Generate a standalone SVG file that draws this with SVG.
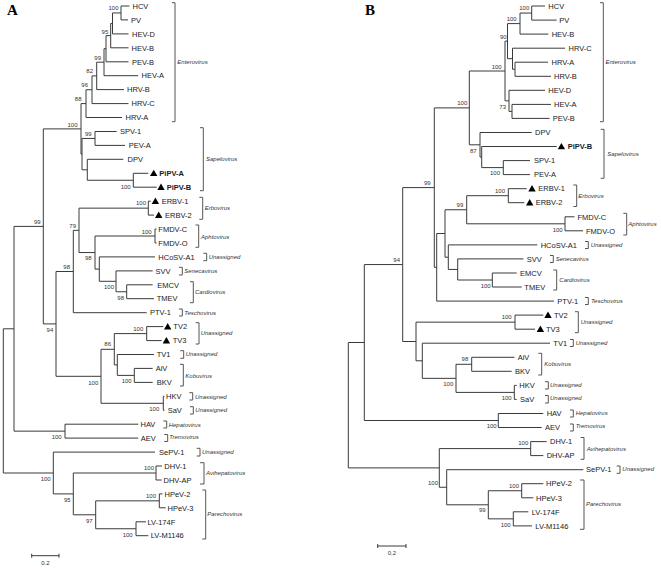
<svg xmlns="http://www.w3.org/2000/svg" xmlns:xlink="http://www.w3.org/1999/xlink" width="661" height="568" viewBox="0 0 661 568">
<style>
.e{stroke:#3a3a3a;stroke-width:1;fill:none}
.br{stroke:#555;stroke-width:1;fill:none}
text{font-family:"Liberation Sans",Arial,sans-serif;fill:#1a1a1a}
.l{font-size:7.5px}
.lb{font-size:7.5px;font-weight:bold}
.bs{font-size:6px;text-anchor:end;fill:#333}
.g{font-size:6px;font-style:italic;fill:#333}
.p{font-family:"Liberation Serif","Times New Roman",serif;font-size:15px;font-weight:bold;fill:#000}
.sc{font-size:6px;text-anchor:middle;fill:#333}
.tri{fill:#000}
</style>
<defs>
<path id="tri" d="M0,2.8 L7.4,2.8 L3.7,-3.6 Z"/>
</defs>
<rect width="661" height="568" fill="#fff"/>
<text class="p" x="7" y="15">A</text>
<text class="p" x="365" y="15">B</text>

<g id="connectors">
<path class="e" d="M121 6V19.9M112.5 12.95V33.9M110.7 23.4V47.8M106 35.6V61.8M104 48.7V75.7M96.7 62.2V89.6M92 75.9V103.6M86 89.75V117.5M95 131.5V145.4M133.3 173.3V187.2M87.3 159.3V180.25M82 138.45V169.8M81 103.6V154.1M148.3 201.2V215.1M155 229V243M126.7 284.8V298.7M116 270.9V291.75M99.3 256.9V281.3M95 236V269.1M79 208.15V252.55M73.3 230.35V312.7M146.7 326.6V340.6M134.3 368.4V382.4M117.3 354.5V375.4M114.3 333.6V364.95M163.3 396.3V410.3M101 349.3V403.3M56 271.5V376.3M43.3 128.9V323.9M65 424.2V438.1M14 226.4V431.15M156 466V480M159.3 493.9V507.8M136 521.8V535.7M95.7 500.85V528.75M73.3 473V514.8M53.3 452.1V493.9M3.3 328.8V473"/>
<path class="e" d="M121 6H129.5M121 19.9H128M112.5 12.95H121M112.5 33.9H128.5M110.7 23.4H112.5M110.7 47.8H128.5M106 35.6H110.7M106 61.8H128.5M104 48.7H106M104 75.7H138.3M96.7 62.2H104M96.7 89.6H124M92 75.9H96.7M92 103.6H128.5M86 89.75H92M86 117.5H122M81 103.6H86M95 131.5H116.7M95 145.4H125M82 138.45H95M87.3 159.3H123.3M133.3 173.3H148.3M133.3 187.2H156.7M87.3 180.25H133.3M82 169.8H87.3M81 154.1H82M43.3 128.9H81M148.3 201.2H150.7M148.3 215.1H154M79 208.15H148.3M155 229H156.5M155 243H156.5M95 236H155M99.3 256.9H155M116 270.9H152.7M126.7 284.8H152.7M126.7 298.7H154M116 291.75H126.7M99.3 281.3H116M95 269.1H99.3M79 252.55H95M73.3 230.35H79M73.3 312.7H146.7M56 271.5H73.3M146.7 326.6H163.3M146.7 340.6H161.7M114.3 333.6H146.7M117.3 354.5H154M134.3 368.4H152.7M134.3 382.4H152.7M117.3 375.4H134.3M114.3 364.95H117.3M101 349.3H114.3M163.3 396.3H164.5M163.3 410.3H164.5M101 403.3H163.3M56 376.3H101M43.3 323.9H56M14 226.4H43.3M65 424.2H138.3M65 438.1H138.3M14 431.15H65M3.3 328.8H14M53.3 452.1H155M156 466H162M156 480H161.7M73.3 473H156M159.3 493.9H162.5M159.3 507.8H165.7M136 521.8H146M136 535.7H148.3M95.7 500.85H159.3M95.7 528.75H136M73.3 514.8H95.7M53.3 493.9H73.3M3.3 473H53.3"/>
<path class="e" d="M531.7 6V20.1M520 13.05V34.1M515 62.2V76.3M512.5 48.2V69.25M507.5 23.6V58.7M512 104.4V118.4M509 90.3V111.4M505 41.15V100.85M503.3 160.6V174.6M481.7 146.5V167.6M480 132.5V157.05M469.3 71V144.8M508.3 188.7V202.7M565 216.8V230.8M466.7 195.7V223.8M492.3 273V287M457.7 258.9V280M448.3 244.9V269.45M445 209.75V257.2M436.7 233.5V301.1M434.3 107.9V267.3M515 315.1V329.2M471.7 357.3V371.3M514.3 385.4V399.4M456 364.3V392.4M422.3 343.2V378.35M416 322.15V360.8M402.7 187.6V341.5M498.3 413.5V427.5M364.3 264.55V420.5M530.7 441.6V455.6M521.7 483.7V497.8M513.3 511.8V525.9M488.3 490.75V518.85M446.7 469.7V504.8M439.3 448.6V487.25M348.3 342.5V467.9"/>
<path class="e" d="M531.7 6H545M531.7 20.1H556.7M520 13.05H531.7M520 34.1H548.3M507.5 23.6H520M512.5 48.2H565M515 62.2H548M515 76.3H551M512.5 69.25H515M507.5 58.7H512.5M505 41.15H507.5M509 90.3H545M512 104.4H551M512 118.4H549.5M509 111.4H512M505 100.85H509M469.3 71H505M480 132.5H531.7M481.7 146.5H556.7M503.3 160.6H530M503.3 174.6H530M481.7 167.6H503.3M480 157.05H481.7M469.3 144.8H480M434.3 107.9H469.3M508.3 188.7H526.7M508.3 202.7H524.3M466.7 195.7H508.3M565 216.8H574.5M565 230.8H583M466.7 223.8H565M445 209.75H466.7M448.3 244.9H537.3M457.7 258.9H523.5M492.3 273H516.7M492.3 287H521.7M457.7 280H492.3M448.3 269.45H457.7M445 257.2H448.3M436.7 233.5H445M436.7 301.1H554M434.3 267.3H436.7M402.7 187.6H434.3M515 315.1H543.3M515 329.2H535M416 322.15H515M422.3 343.2H550M471.7 357.3H514.5M471.7 371.3H511.7M456 364.3H471.7M514.3 385.4H516.7M514.3 399.4H516.7M456 392.4H514.3M422.3 378.35H456M416 360.8H422.3M402.7 341.5H416M364.3 264.55H402.7M498.3 413.5H543.3M498.3 427.5H541.7M364.3 420.5H498.3M348.3 342.5H364.3M530.7 441.6H546.7M530.7 455.6H543.3M439.3 448.6H530.7M446.7 469.7H583.3M521.7 483.7H543.3M521.7 497.8H533.3M513.3 511.8H528.3M513.3 525.9H532M488.3 490.75H521.7M488.3 518.85H513.3M446.7 504.8H488.3M439.3 487.25H446.7M348.3 467.9H439.3"/>
</g>

<g id="bootstrap-a">
<text class="bs" x="118.5" y="10.1">100</text>
<text class="bs" x="108.3" y="33.6">95</text>
<text class="bs" x="101" y="59.6">99</text>
<text class="bs" x="93" y="73.1">82</text>
<text class="bs" x="88" y="87.1">96</text>
<text class="bs" x="81.5" y="101.1">88</text>
<text class="bs" x="77.5" y="126.6">100</text>
<text class="bs" x="91.7" y="136.4">99</text>
<text class="bs" x="130.7" y="188.8">100</text>
<text class="bs" x="146" y="205.1">100</text>
<text class="bs" x="40.7" y="223.8">99</text>
<text class="bs" x="76" y="227.6">79</text>
<text class="bs" x="151.7" y="233.6">100</text>
<text class="bs" x="91.7" y="260.4">98</text>
<text class="bs" x="70" y="268.8">98</text>
<text class="bs" x="114" y="289.4">100</text>
<text class="bs" x="124" y="300.4">98</text>
<text class="bs" x="143.3" y="331.1">100</text>
<text class="bs" x="53.3" y="332.1">94</text>
<text class="bs" x="111" y="346.4">86</text>
<text class="bs" x="131.7" y="383.1">100</text>
<text class="bs" x="98.3" y="384.8">100</text>
<text class="bs" x="159.3" y="411.1">100</text>
<text class="bs" x="61.7" y="438.8">100</text>
<text class="bs" x="154" y="470.4">100</text>
<text class="bs" x="50.7" y="481.4">100</text>
<text class="bs" x="156" y="498.1">100</text>
<text class="bs" x="70.7" y="502.1">95</text>
<text class="bs" x="92.7" y="522.8">97</text>
<text class="bs" x="132.7" y="537.1">100</text>
</g>
<g id="bootstrap-b">
<text class="bs" x="529.3" y="10.4">100</text>
<text class="bs" x="516.7" y="21.4">100</text>
<text class="bs" x="506.7" y="38.8">90</text>
<text class="bs" x="501.7" y="68.8">100</text>
<text class="bs" x="506" y="109.3">73</text>
<text class="bs" x="467.3" y="105.4">100</text>
<text class="bs" x="476.7" y="153.1">87</text>
<text class="bs" x="500" y="175.4">100</text>
<text class="bs" x="430.7" y="184.8">99</text>
<text class="bs" x="505" y="193.1">100</text>
<text class="bs" x="463.3" y="207.1">99</text>
<text class="bs" x="562.7" y="232.1">100</text>
<text class="bs" x="400" y="262.1">94</text>
<text class="bs" x="490.7" y="288.1">100</text>
<text class="bs" x="511.7" y="319.4">100</text>
<text class="bs" x="468.3" y="361.4">98</text>
<text class="bs" x="453.3" y="386.4">100</text>
<text class="bs" x="511.7" y="400.4">100</text>
<text class="bs" x="496.7" y="427.8">100</text>
<text class="bs" x="528.3" y="445.4">100</text>
<text class="bs" x="438" y="485.4">100</text>
<text class="bs" x="519" y="487.8">100</text>
<text class="bs" x="485.7" y="512.1">99</text>
<text class="bs" x="510.7" y="527.1">100</text>
</g>

<g id="a-HCV"><text class="l" x="132.5" y="8.7">HCV</text></g>
<g id="a-PV"><text class="l" x="131" y="22.6">PV</text></g>
<g id="a-HEV-D"><text class="l" x="132" y="36.6">HEV-D</text></g>
<g id="a-HEV-B"><text class="l" x="131.5" y="50.5">HEV-B</text></g>
<g id="a-PEV-B"><text class="l" x="132" y="64.5">PEV-B</text></g>
<g id="a-HEV-A"><text class="l" x="141.5" y="78.4">HEV-A</text></g>
<g id="a-HRV-B"><text class="l" x="127" y="92.3">HRV-B</text></g>
<g id="a-HRV-C"><text class="l" x="131.5" y="106.3">HRV-C</text></g>
<g id="a-HRV-A"><text class="l" x="125.5" y="120.2">HRV-A</text></g>
<g id="a-SPV-1"><text class="l" x="120" y="134.2">SPV-1</text></g>
<g id="a-PEV-A"><text class="l" x="128.7" y="148.1">PEV-A</text></g>
<g id="a-DPV"><text class="l" x="127.5" y="162">DPV</text></g>
<g id="a-PiPV-A"><use xlink:href="#tri" class="tri" x="150" y="173.3"/><text class="lb" x="159.3" y="176">PiPV-A</text></g>
<g id="a-PiPV-B"><use xlink:href="#tri" class="tri" x="157.3" y="187.2"/><text class="lb" x="166.7" y="189.9">PiPV-B</text></g>
<g id="a-ERBV-1"><use xlink:href="#tri" class="tri" x="151.7" y="201.2"/><text class="l" x="161.7" y="203.9">ERBV-1</text></g>
<g id="a-ERBV-2"><use xlink:href="#tri" class="tri" x="155" y="215.1"/><text class="l" x="165" y="217.8">ERBV-2</text></g>
<g id="a-FMDV-C"><text class="l" x="158.3" y="231.7">FMDV-C</text></g>
<g id="a-FMDV-O"><text class="l" x="158.3" y="245.7">FMDV-O</text></g>
<g id="a-HCoSV-A1"><text class="l" x="158.3" y="259.6">HCoSV-A1</text></g>
<g id="a-SVV"><text class="l" x="155.5" y="273.6">SVV</text></g>
<g id="a-EMCV"><text class="l" x="157.3" y="287.5">EMCV</text></g>
<g id="a-TMEV"><text class="l" x="156.7" y="301.4">TMEV</text></g>
<g id="a-PTV-1"><text class="l" x="150" y="315.4">PTV-1</text></g>
<g id="a-TV2"><use xlink:href="#tri" class="tri" x="164" y="326.6"/><text class="l" x="173.3" y="329.3">TV2</text></g>
<g id="a-TV3"><use xlink:href="#tri" class="tri" x="162.7" y="340.6"/><text class="l" x="172.7" y="343.3">TV3</text></g>
<g id="a-TV1"><text class="l" x="156.7" y="357.2">TV1</text></g>
<g id="a-AiV"><text class="l" x="155.7" y="371.1">AiV</text></g>
<g id="a-BKV"><text class="l" x="156.7" y="385.1">BKV</text></g>
<g id="a-HKV"><text class="l" x="166" y="399">HKV</text></g>
<g id="a-SaV"><text class="l" x="167.7" y="413">SaV</text></g>
<g id="a-HAV"><text class="l" x="140.5" y="426.9">HAV</text></g>
<g id="a-AEV"><text class="l" x="140.7" y="440.8">AEV</text></g>
<g id="a-SePV-1"><text class="l" x="159" y="454.8">SePV-1</text></g>
<g id="a-DHV-1"><text class="l" x="164.3" y="468.7">DHV-1</text></g>
<g id="a-DHV-AP"><text class="l" x="163.5" y="482.7">DHV-AP</text></g>
<g id="a-HPeV-2"><text class="l" x="164.5" y="496.6">HPeV-2</text></g>
<g id="a-HPeV-3"><text class="l" x="167.5" y="510.5">HPeV-3</text></g>
<g id="a-LV-174F"><text class="l" x="147.5" y="524.5">LV-174F</text></g>
<g id="a-LV-M1146"><text class="l" x="150.7" y="538.4">LV-M1146</text></g>

<g id="b-HCV"><text class="l" x="548.3" y="8.7">HCV</text></g>
<g id="b-PV"><text class="l" x="559.3" y="22.8">PV</text></g>
<g id="b-HEV-B"><text class="l" x="551.7" y="36.8">HEV-B</text></g>
<g id="b-HRV-C"><text class="l" x="568.5" y="50.9">HRV-C</text></g>
<g id="b-HRV-A"><text class="l" x="551.5" y="64.9">HRV-A</text></g>
<g id="b-HRV-B"><text class="l" x="554" y="79">HRV-B</text></g>
<g id="b-HEV-D"><text class="l" x="548.3" y="93">HEV-D</text></g>
<g id="b-HEV-A"><text class="l" x="554" y="107.1">HEV-A</text></g>
<g id="b-PEV-B"><text class="l" x="552.7" y="121.1">PEV-B</text></g>
<g id="b-DPV"><text class="l" x="535" y="135.2">DPV</text></g>
<g id="b-PiPV-B"><use xlink:href="#tri" class="tri" x="557.7" y="146.5"/><text class="lb" x="567.7" y="149.2">PiPV-B</text></g>
<g id="b-SPV-1"><text class="l" x="534" y="163.3">SPV-1</text></g>
<g id="b-PEV-A"><text class="l" x="534" y="177.3">PEV-A</text></g>
<g id="b-ERBV-1"><use xlink:href="#tri" class="tri" x="528.3" y="188.7"/><text class="l" x="538.3" y="191.4">ERBV-1</text></g>
<g id="b-ERBV-2"><use xlink:href="#tri" class="tri" x="526" y="202.7"/><text class="l" x="535.7" y="205.4">ERBV-2</text></g>
<g id="b-FMDV-C"><text class="l" x="577.5" y="219.5">FMDV-C</text></g>
<g id="b-FMDV-O"><text class="l" x="586" y="233.5">FMDV-O</text></g>
<g id="b-HCoSV-A1"><text class="l" x="540.7" y="247.6">HCoSV-A1</text></g>
<g id="b-SVV"><text class="l" x="526.7" y="261.6">SVV</text></g>
<g id="b-EMCV"><text class="l" x="520" y="275.7">EMCV</text></g>
<g id="b-TMEV"><text class="l" x="524.3" y="289.7">TMEV</text></g>
<g id="b-PTV-1"><text class="l" x="557.3" y="303.8">PTV-1</text></g>
<g id="b-TV2"><use xlink:href="#tri" class="tri" x="544.3" y="315.1"/><text class="l" x="554" y="317.8">TV2</text></g>
<g id="b-TV3"><use xlink:href="#tri" class="tri" x="536.7" y="329.2"/><text class="l" x="546" y="331.9">TV3</text></g>
<g id="b-TV1"><text class="l" x="553.3" y="345.9">TV1</text></g>
<g id="b-AiV"><text class="l" x="517.7" y="360">AiV</text></g>
<g id="b-BKV"><text class="l" x="515" y="374">BKV</text></g>
<g id="b-HKV"><text class="l" x="519.3" y="388.1">HKV</text></g>
<g id="b-SaV"><text class="l" x="520" y="402.1">SaV</text></g>
<g id="b-HAV"><text class="l" x="546.7" y="416.2">HAV</text></g>
<g id="b-AEV"><text class="l" x="545" y="430.2">AEV</text></g>
<g id="b-DHV-1"><text class="l" x="550" y="444.3">DHV-1</text></g>
<g id="b-DHV-AP"><text class="l" x="546.7" y="458.3">DHV-AP</text></g>
<g id="b-SePV-1"><text class="l" x="586" y="472.4">SePV-1</text></g>
<g id="b-HPeV-2"><text class="l" x="546" y="486.4">HPeV-2</text></g>
<g id="b-HPeV-3"><text class="l" x="536" y="500.5">HPeV-3</text></g>
<g id="b-LV-174F"><text class="l" x="531.7" y="514.5">LV-174F</text></g>
<g id="b-LV-M1146"><text class="l" x="535.3" y="528.6">LV-M1146</text></g>

<g id="genera-a">
<path class="br" d="M172 2.7H175V121.7H172M200 127.7H203.3V190.7H200M199.3 197.3H202.7V219.3H199.3M195.5 225H198.7V247.3H195.5M203.3 253.3H206.7V260.7H203.3M179 267.3H182.3V275H179M190 281.7H193.3V302.7H190M179 309H182.3V316H179M195.7 322.7H199V344H195.7M180.3 350.7H183.7V358.3H180.3M180 364.3H183.3V386H180M189.3 392.7H192.7V400H189.3M190 406.7H193.3V414H190M163.3 421H166.7V428H163.3M164.3 434.5H167.7V441.5H164.3M196.7 448.3H200V456H196.7M200 462.7H204V484H200M202.3 490H205.7V539H202.3"/>
<text class="g" x="177.3" y="64.1">Enterovirus</text>
<text class="g" x="206" y="161.4">Sapelovirus</text>
<text class="g" x="204.7" y="210.4">Erbovirus</text>
<text class="g" x="201" y="238.8">Aphtovirus</text>
<text class="g" x="208.7" y="259.1">Unassigned</text>
<text class="g" x="184.3" y="273.1">Senecavirus</text>
<text class="g" x="195" y="293.8">Cardiovirus</text>
<text class="g" x="184.3" y="314.8">Teschovirus</text>
<text class="g" x="200.7" y="335.4">Unassigned</text>
<text class="g" x="185.7" y="356.1">Unassigned</text>
<text class="g" x="185.3" y="377.8">Kobuvirus</text>
<text class="g" x="195" y="398.8">Unassigned</text>
<text class="g" x="195.3" y="412.1">Unassigned</text>
<text class="g" x="168.7" y="426.8">Hepatovirus</text>
<text class="g" x="169.3" y="439.4">Tremovirus</text>
<text class="g" x="202" y="454.4">Unassigned</text>
<text class="g" x="206" y="474.8">Avihepatovirus</text>
<text class="g" x="207.3" y="516.4">Parechovirus</text>
</g>
<g id="genera-b">
<path class="br" d="M600 2.7H603.3V121.7H600M600.7 129.3H604V178.3H600.7M573.3 185H576.7V206.5H573.3M623.3 213.3H626.7V235H623.3M585 241.5H588.3V248.5H585M550 255.5H553.3V262.5H550M553.3 270H556.7V290H553.3M585 297.5H588.3V304.5H585M575 311.7H578.3V332.7H575M570 339.5H573.3V346.5H570M538.3 353.3H541.7V375H538.3M545 381.7H548.3V389H545M545 395.5H548.3V403H545M570 410H573.3V417H570M570 424H573.3V431H570M580.7 437.5H584V459.3H580.7M616.7 466H620V473.3H616.7M580 480H584V529.3H580"/>
<text class="g" x="605.5" y="64.1">Enterovirus</text>
<text class="g" x="607.3" y="156.1">Sapelovirus</text>
<text class="g" x="578.3" y="197.8">Erbovirus</text>
<text class="g" x="628.3" y="226.1">Aphtovirus</text>
<text class="g" x="590.7" y="247.1">Unassigned</text>
<text class="g" x="555.7" y="261.1">Senecavirus</text>
<text class="g" x="559.3" y="282.1">Cardiovirus</text>
<text class="g" x="591" y="303.1">Teschovirus</text>
<text class="g" x="580.7" y="324.4">Unassigned</text>
<text class="g" x="575.7" y="344.8">Unassigned</text>
<text class="g" x="544.3" y="366.1">Kobuvirus</text>
<text class="g" x="550" y="387.1">Unassigned</text>
<text class="g" x="550" y="400.4">Unassigned</text>
<text class="g" x="575.7" y="415.4">Hepatovirus</text>
<text class="g" x="575.7" y="428.1">Tremovirus</text>
<text class="g" x="586.7" y="451.1">Avihepatovirus</text>
<text class="g" x="622.3" y="471.4">Unassigned</text>
<text class="g" x="586" y="506.4">Parechovirus</text>
</g>

<g id="scale-a">
<path class="e" d="M31.7 555.7H59M31.7 553.7V557.7M59 553.7V557.7"/>
<text class="sc" x="45.3" y="564.8">0.2</text>
</g>
<g id="scale-b">
<path class="e" d="M377.7 546H406M377.7 544V548M406 544V548"/>
<text class="sc" x="391.8" y="554.8">0,2</text>
</g>
</svg>
